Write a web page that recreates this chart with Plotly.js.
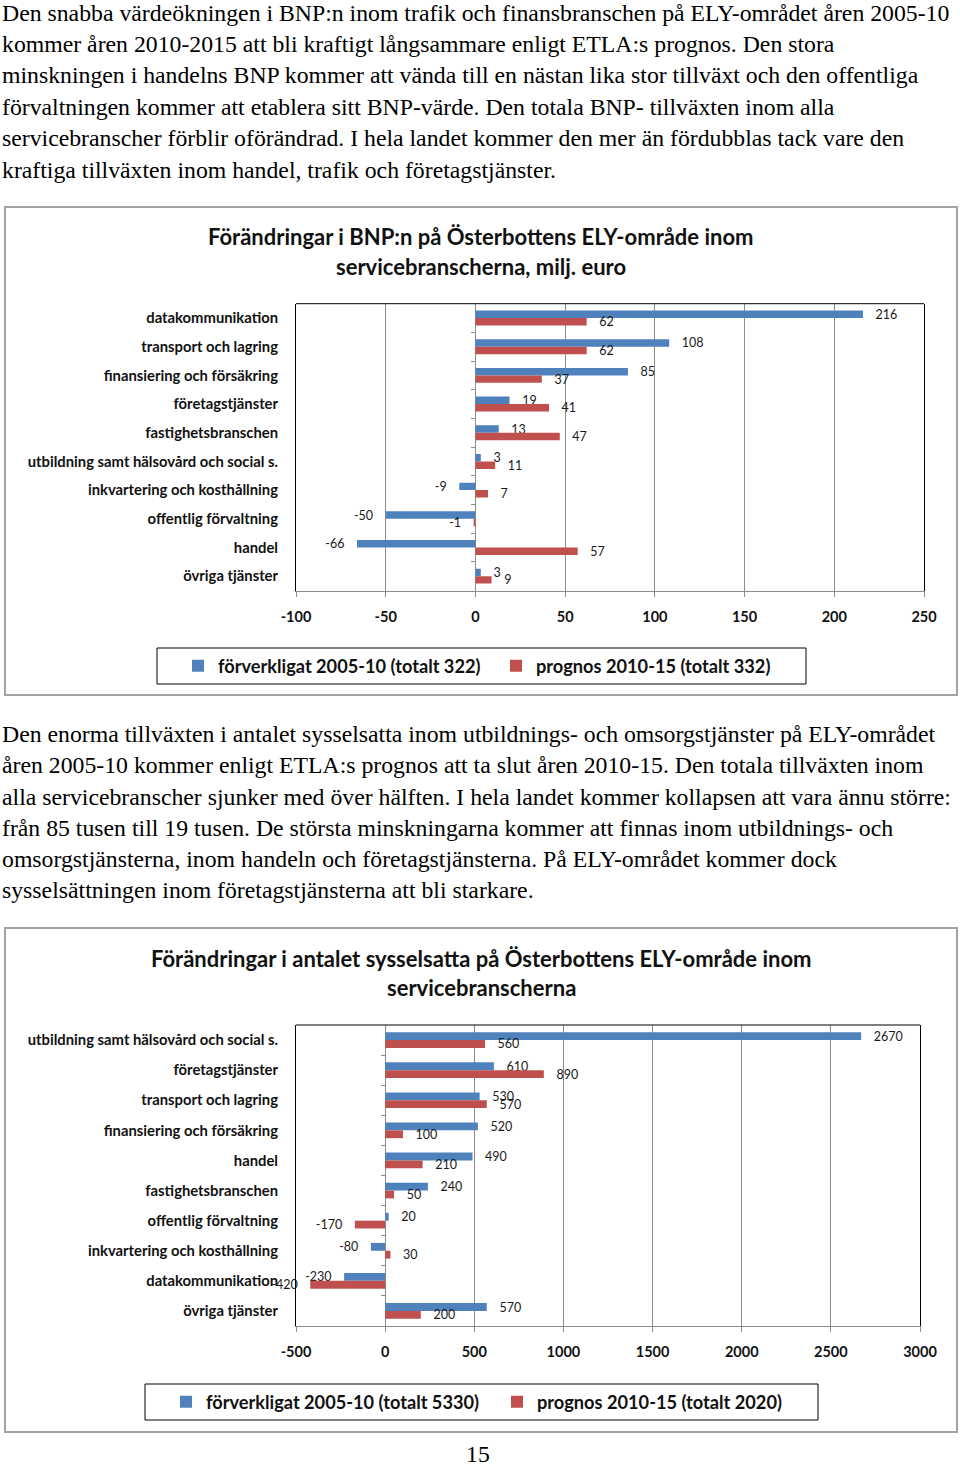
<!DOCTYPE html>
<html><head><meta charset="utf-8">
<script src="https://cdn.plot.ly/plotly-3.0.1.min.js"></script>
<style>html,body{margin:0;padding:0;background:#fff}#chart{width:960px;height:1465px}</style>
</head><body><div id="chart"></div>
<script>
// ---------- data ----------
const para1 = [
 'Den snabba värdeökningen i BNP:n inom trafik och finansbranschen på ELY-området åren 2005-10',
 'kommer åren 2010-2015 att bli kraftigt långsammare enligt ETLA:s prognos. Den stora',
 'minskningen i handelns BNP kommer att vända till en nästan lika stor tillväxt och den offentliga',
 'förvaltningen kommer att etablera sitt BNP-värde. Den totala BNP- tillväxten inom alla',
 'servicebranscher förblir oförändrad. I hela landet kommer den mer än fördubblas tack vare den',
 'kraftiga tillväxten inom handel, trafik och företagstjänster.'
];
const para2 = [
 'Den enorma tillväxten i antalet sysselsatta inom utbildnings- och omsorgstjänster på ELY-området',
 'åren 2005-10 kommer enligt ETLA:s prognos att ta slut åren 2010-15. Den totala tillväxten inom',
 'alla servicebranscher sjunker med över hälften. I hela landet kommer kollapsen att vara ännu större:',
 'från 85 tusen till 19 tusen. De största minskningarna kommer att finnas inom utbildnings- och',
 'omsorgstjänsterna, inom handeln och företagstjänsterna. På ELY-området kommer dock',
 'sysselsättningen inom företagstjänsterna att bli starkare.'
];
const pageNumber = '15';

const title1 = ['Förändringar i BNP:n på Österbottens ELY-område inom', 'servicebranscherna, milj. euro'];
const cats1 = ['datakommunikation','transport och lagring','finansiering och försäkring','företagstjänster','fastighetsbranschen','utbildning samt hälsovård och social s.','inkvartering och kosthållning','offentlig förvaltning','handel','övriga tjänster'];
const real1 = [216,108,85,19,13,3,-9,-50,-66,3];
const prog1 = [62,62,37,41,47,11,7,-1,57,9];
const xRange1 = [-100,250];
const ticks1 = [-100,-50,0,50,100,150,200,250];
const series1 = ['förverkligat 2005-10 (totalt 322)','prognos 2010-15 (totalt 332)'];

const title2 = ['Förändringar i antalet sysselsatta på Österbottens ELY-område inom', 'servicebranscherna'];
const cats2 = ['utbildning samt hälsovård och social s.','företagstjänster','transport och lagring','finansiering och försäkring','handel','fastighetsbranschen','offentlig förvaltning','inkvartering och kosthållning','datakommunikation','övriga tjänster'];
const real2 = [2670,610,530,520,490,240,20,-80,-230,570];
const prog2 = [560,890,570,100,210,50,-170,30,-420,200];
const xRange2 = [-500,3000];
const ticks2 = [-500,0,500,1000,1500,2000,2500,3000];
const series2 = ['förverkligat 2005-10 (totalt 5330)','prognos 2010-15 (totalt 2020)'];

// ---------- style ----------
const W = 960, H = 1465;
const px = x => x / W, py = y => 1 - y / H;
const BLUE = '#4F81BD', RED = '#C0504D', GRID = '#8c8c8c', FRAME = '#a3a3a3';
const SANS = 'Lato, "Open Sans", sans-serif';
const SERIF = '"Liberation Serif", "DejaVu Serif", serif';
const PAD = '\u00A0\u00A0\u00A0';
const lab = arr => arr.map(v => v >= 0 ? PAD + v : v + PAD);
const valFont = {family: SANS, size: 12.5, color: '#1a1a1a'};

function bars(cats, vals, name, color, xa, ya, lg) {
  return {type:'bar', orientation:'h', y:cats, x:vals, name:name,
    marker:{color:color}, text:lab(vals), textposition:'outside', textfont:valFont,
    cliponaxis:false, constraintext:'none', xaxis:xa, yaxis:ya, legend:lg,
    hoverinfo:'x+y'};
}
const data = [
  bars(cats1, real1, series1[0], BLUE, 'x', 'y', 'legend'),
  bars(cats1, prog1, series1[1], RED, 'x', 'y', 'legend'),
  bars(cats2, real2, series2[0], BLUE, 'x2', 'y2', 'legend2'),
  bars(cats2, prog2, series2[1], RED, 'x2', 'y2', 'legend2'),
  {type:'scatter', x:[], y:[], xaxis:'x', yaxis:'y3', showlegend:false, hoverinfo:'skip'},
  {type:'scatter', x:[], y:[], xaxis:'x2', yaxis:'y4', showlegend:false, hoverinfo:'skip'}
];

const dom1x = [px(296), px(924)], dom1y = [py(590.5), py(303.7)];
const dom2x = [px(296), px(920)], dom2y = [py(1326), py(1025)];

function xax(dom, range, ticks, anchor) {
  return {domain:dom, range:range, tickmode:'array', tickvals:ticks, ticktext:ticks.map(String), anchor:anchor,
    showgrid:true, gridcolor:GRID, gridwidth:1, zeroline:true, zerolinecolor:GRID, zerolinewidth:1,
    showline:true, linecolor:GRID, linewidth:1, ticks:'outside', ticklen:5, tickcolor:GRID,
    ticklabelstandoff:8,
    tickfont:{family:SANS, size:14.5, weight:'bold', color:'#111'}, fixedrange:true};
}
function yax(dom, cats, anchor) {
  return {domain:dom, type:'category', categoryarray:cats, categoryorder:'array',
    autorange:'reversed', anchor:anchor, showline:true, linecolor:'#000', linewidth:1, mirror:true,
    ticks:'', showgrid:false, ticklabelstandoff:14,
    tickfont:{family:SANS, size:14.8, weight:'bold', color:'#111'}, fixedrange:true};
}
function tickAxis(over, dom, xdom, xrange, n) {
  const pos = xdom[0] + (0 - xrange[0]) / (xrange[1] - xrange[0]) * (xdom[1] - xdom[0]);
  const tv = []; for (let i = 0; i < n - 1; i++) tv.push(i + 0.5);
  return {overlaying:over, anchor:'free', position:pos, range:[n - 0.5, -0.5], tickvals:tv,
    ticks:'outside', ticklen:4, tickcolor:GRID, showticklabels:false, showgrid:false,
    zeroline:false, showline:false, fixedrange:true};
}

const annotations = [];
const bodyFont = {family:SERIF, size:23.75, color:'#000'};
const lineY1 = [13, 44, 75, 107, 138, 170];
para1.forEach((t, i) => annotations.push({text:t, xref:'paper', yref:'paper', x:px(0), y:py(lineY1[i]),
  xanchor:'left', yanchor:'middle', showarrow:false, font:bodyFont}));
const lineY2 = [734, 765, 797, 828, 859, 890];
para2.forEach((t, i) => annotations.push({text:t, xref:'paper', yref:'paper', x:px(0), y:py(lineY2[i]),
  xanchor:'left', yanchor:'middle', showarrow:false, font:bodyFont}));
annotations.push({text:pageNumber, xref:'paper', yref:'paper', x:px(478), y:0, xanchor:'center', yanchor:'bottom',
  yshift:-3, borderpad:0, showarrow:false, font:bodyFont});
const tY1 = [237, 266], tY2 = [958, 987];
const titleFont = {family:SANS, size:22, weight:'bold', color:'#111'};
title1.forEach((t, i) => annotations.push({text:t, xref:'paper', yref:'paper', x:px(481), y:py(tY1[i]), xanchor:'center', yanchor:'middle',
  showarrow:false, font:titleFont}));
title2.forEach((t, i) => annotations.push({text:t, xref:'paper', yref:'paper', x:px(481), y:py(tY2[i]), xanchor:'center', yanchor:'middle',
  showarrow:false, font:titleFont}));

const rect = (x0, y0, x1, y1, color, w) => ({type:'rect', xref:'paper', yref:'paper',
  x0:px(x0), x1:px(x1), y0:py(y0), y1:py(y1), line:{color:color, width:w}, fillcolor:'rgba(0,0,0,0)'});
const shapes = [
  rect(5, 207, 957, 695, FRAME, 2),
  rect(5, 928, 957, 1432, FRAME, 2),
  rect(157, 648, 806, 684, '#000', 1),
  rect(145, 1384, 818, 1420, '#000', 1),
  {type:'line', xref:'x domain', yref:'y domain', x0:0, x1:1, y0:1, y1:1, line:{color:'#000', width:1}},
  {type:'line', xref:'x2 domain', yref:'y2 domain', x0:0, x1:1, y0:1, y1:1, line:{color:'#000', width:1}}
];

const legFont = {family:SANS, size:18.2, weight:'bold', color:'#111'};
const layout = {
  width:W, height:H, margin:{l:0, r:0, t:0, b:0}, paper_bgcolor:'#fff', plot_bgcolor:'#fff',
  barmode:'group', bargap:0.48, bargroupgap:0,
  xaxis: xax(dom1x, xRange1, ticks1, 'y'),
  yaxis: yax(dom1y, cats1, 'x'),
  xaxis2: xax(dom2x, xRange2, ticks2, 'y2'),
  yaxis2: yax(dom2y, cats2, 'x2'),
  yaxis3: tickAxis('y', dom1y, dom1x, xRange1, cats1.length),
  yaxis4: tickAxis('y2', dom2y, dom2x, xRange2, cats2.length),
  legend: {orientation:'h', x:px(178), xanchor:'left', y:py(666), yanchor:'middle', font:legFont,
    bgcolor:'rgba(0,0,0,0)', borderwidth:0, entrywidth:273, traceorder:'normal'},
  legend2: {orientation:'h', x:px(166), xanchor:'left', y:py(1402), yanchor:'middle', font:legFont,
    bgcolor:'rgba(0,0,0,0)', borderwidth:0, entrywidth:286, traceorder:'normal'},
  showlegend:true, annotations:annotations, shapes:shapes, hovermode:false
};
Plotly.newPlot('chart', data, layout, {displayModeBar:false, staticPlot:true});
</script></body></html>
